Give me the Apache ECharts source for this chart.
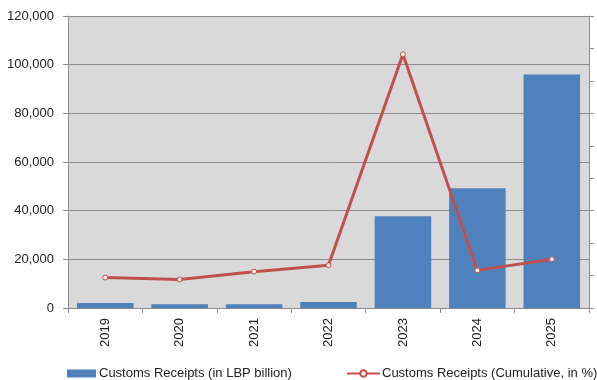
<!DOCTYPE html>
<html>
<head>
<meta charset="utf-8">
<script src="https://cdn.jsdelivr.net/npm/echarts@6/dist/echarts.min.js"></script>
<style>
  html, body { margin: 0; padding: 0; background: #fff; }
  #chart { width: 597px; height: 380px; }
</style>
</head>
<body>
<div id="chart"></div>
<script>
// Customs receipts per year, with the cumulative % change on a secondary axis
const years = ['2019', '2020', '2021', '2022', '2023', '2024', '2025'];
const receiptsLBPbn = [2050, 1500, 1500, 2450, 37700, 49200, 96000];
const cumulativePct = [47, 44, 56, 66, 391, 58, 75];
const leftTicks = { min: 0, max: 120000, interval: 20000 };
const rightTicks = { min: 0, max: 450, interval: 50 };

const barName = 'Customs Receipts (in LBP billion)';
const lineName = 'Customs Receipts (Cumulative, in %)';

const font = '"Liberation Sans", Arial, sans-serif';
const axisGray = '#8c8c8c';

const chart = echarts.init(document.getElementById('chart'), null, { renderer: 'canvas' });
chart.setOption({
  animation: false,
  textStyle: { fontFamily: font },
  grid: {
    left: 68, right: 8, top: 16, bottom: 72,
    show: true, backgroundColor: '#d9d9d9', borderWidth: 0
  },
  legend: [
    {
      data: [{ name: barName, icon: 'rect' }], left: 62, top: 362,
      itemWidth: 29, itemHeight: 8, itemGap: 4,
      textStyle: { fontSize: 13, color: '#222', fontFamily: font, padding: [0, 0, 0, -2] }
    },
    {
      data: [lineName], left: 341, top: 362,
      itemWidth: 33, itemHeight: 8, itemGap: 4,
      textStyle: { fontSize: 13, color: '#222', fontFamily: font, padding: [0, 0, 0, -3] }
    }
  ],
  xAxis: {
    type: 'category',
    data: years,
    boundaryGap: true,
    axisLine: { lineStyle: { color: axisGray, width: 1 } },
    axisTick: { show: true, alignWithLabel: false, length: 5, lineStyle: { color: axisGray } },
    axisLabel: { rotate: 90, margin: 10, fontSize: 13, color: '#222', fontFamily: font }
  },
  yAxis: [
    {
      type: 'value',
      min: leftTicks.min, max: leftTicks.max, interval: leftTicks.interval,
      axisLine: { show: true, lineStyle: { color: axisGray } },
      axisTick: { show: true, length: 5, lineStyle: { color: axisGray } },
      splitLine: { show: true, lineStyle: { color: axisGray, width: 1 } },
      axisLabel: {
        margin: 14, fontSize: 13, color: '#222', fontFamily: font,
        formatter: v => v.toLocaleString('en-US')
      }
    },
    {
      type: 'value',
      position: 'right',
      min: rightTicks.min, max: rightTicks.max, interval: rightTicks.interval,
      axisLine: { show: true, lineStyle: { color: axisGray } },
      axisTick: { show: true, length: 5, lineStyle: { color: axisGray } },
      splitLine: { show: false },
      axisLabel: { show: false }
    }
  ],
  series: [
    {
      name: barName,
      type: 'bar',
      data: receiptsLBPbn,
      yAxisIndex: 0,
      barWidth: '76%',
      itemStyle: { color: '#4f81bd' }
    },
    {
      name: lineName,
      type: 'line',
      data: cumulativePct,
      yAxisIndex: 1,
      symbol: 'circle',
      symbolSize: 5,
      lineStyle: { color: '#c0504d', width: 3 },
      itemStyle: { color: '#fbeaea', borderColor: '#c0504d', borderWidth: 1 },
      z: 3
    }
  ]
});
</script>
</body>
</html>
